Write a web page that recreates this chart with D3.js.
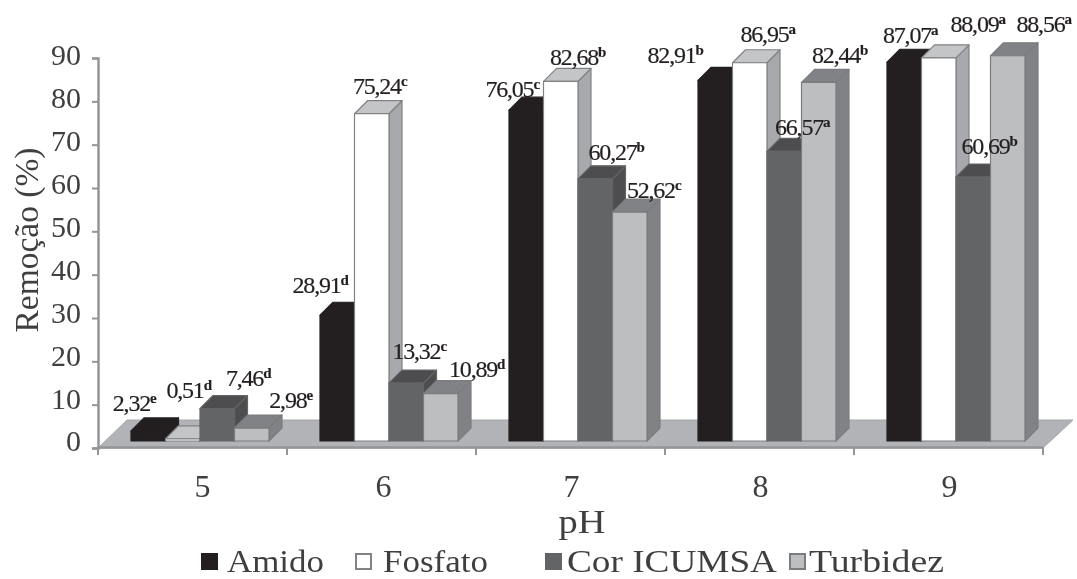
<!DOCTYPE html>
<html><head><meta charset="utf-8">
<script src="https://cdn.jsdelivr.net/npm/d3@7/dist/d3.min.js"></script>
<style>html,body{margin:0;background:#fff}svg{display:block}#root{filter:blur(0.45px)}</style></head>
<body><svg id="c" width="1077" height="579"><g id="root"></g></svg>
<script>
const categories = ["5","6","7","8","9"];
const seriesNames = ["Amido","Fosfato","Cor ICUMSA","Turbidez"];
const amido   = [2.32,28.91,76.05,82.91,87.07];
const fosfato = [0.51,75.24,82.68,86.95,88.09];
const cor     = [7.46,13.32,60.27,66.57,60.69];
const turbidez= [2.98,10.89,52.62,82.44,88.56];
const amidoLetters   = ["e","d","c","b","a"];
const fosfatoLetters = ["d","c","b","a","a"];
const corLetters     = ["d","c","b","a","b"];
const turbidezLetters= ["e","d","c","b","a"];
const yTicks = [0,10,20,30,40,50,60,70,80,90];
// label nudges from the bar's default label anchor [dx,dy]
const labelNudges = [
 [[-20,-2],[0,-23],[25,-5],[33,-2]],
 [[-23,-4],[2,-2],[7,-6],[30,1]],
 [[-20,5],[11,2],[15,-1],[18,4]],
 [[-46,1],[12,-3],[12,2],[15,-1]],
 [[0,-1],[33,-8],[10,-5],[30,-6]]
];
const xTickNudges = [10,2,1,1,1];
const legendStarts = [201,355,545,789];
const legendTextGaps = [26,28,22,20];
const legendWidths = [97,105,210,135];
const series = [amido,fosfato,cor,turbidez];
const letters = [amidoLetters,fosfatoLetters,corLetters,turbidezLetters];
const styles = [
 {front:"#231f20",top:"#231f20",side:"#231f20",stroke:"#231f20"},
 {front:"#ffffff",top:"#c4c5c7",side:"#a7a9ac",stroke:"#808285"},
 {front:"#636466",top:"#4d4d4f",side:"#4d4d4f",stroke:"#636466"},
 {front:"#bcbec0",top:"#808285",side:"#808285",stroke:"#7a7c7f"}
];
const FONT = "'Liberation Serif',serif";
const INK = "#3f3f41";
const svg = d3.select("#root");
const depth = 13;
const y0 = 441;
const y = d3.scaleLinear().domain([0,90]).range([y0,y0-391.5]);
const yAxisY = d3.scaleLinear().domain([0,90]).range([448,58]);
const yLabelY = d3.scaleLinear().domain([0,90]).range([441,55]);
const xBand = d3.scaleBand().domain(categories).range([98,1043]).padding(0);
const xInner = d3.scaleBand().domain(d3.range(4)).range([33,171]).padding(0);

// floor
const L=xBand.range()[0], R=xBand.range()[1];
svg.append("path").attr("d",d3.line()([[L,448],[L+29,420],[R+30,420],[R,448]])+"Z")
  .attr("fill","#b1b3b6").attr("stroke","#a4a6a9").attr("stroke-width",1);
svg.append("line").attr("x1",L).attr("x2",R).attr("y1",447.5).attr("y2",447.5).attr("stroke","#939598").attr("stroke-width",2.5);

// axes
const axisG = svg.append("g").attr("transform",`translate(${L},0)`)
  .call(d3.axisLeft(yAxisY).tickValues(yTicks).tickSize(6).tickPadding(11));
axisG.select(".domain").attr("stroke","#939598").attr("stroke-width",2.5);
axisG.selectAll(".tick line").attr("stroke","#939598").attr("stroke-width",2);
axisG.selectAll("text").attr("font-family",FONT).attr("font-size",30).attr("fill",INK)
  .attr("y",d=>yLabelY(d)-yAxisY(d)).attr("dy","0.33em");

const xAxis = d3.axisBottom(xBand).tickSize(0).tickPadding(26);
const xg = svg.append("g").attr("transform","translate(0,448)").call(xAxis);
xg.select(".domain").remove();
xg.selectAll("text").attr("font-family",FONT).attr("font-size",32).attr("fill",INK).attr("dy","0.71em")
  .attr("x",(d,i)=>xTickNudges[i]);
svg.append("g").selectAll("line").data(d3.range(6)).join("line")
  .attr("x1",i=>L+i*xBand.step()).attr("x2",i=>L+i*xBand.step())
  .attr("y1",447).attr("y2",455).attr("stroke","#939598").attr("stroke-width",2);

// bars
categories.forEach((c,gi)=>{
  const gx = xBand(c);
  series.forEach((vals,si)=>{
    const x = gx + xInner(si), w = xInner.bandwidth(), t = y(vals[gi]), st = styles[si];
    const g = svg.append("g").attr("stroke",st.stroke).attr("stroke-width",1.2).attr("stroke-linejoin","round");
    g.append("path").attr("fill",st.side).attr("d",d3.line()([[x+w,t],[x+w+depth,t-depth],[x+w+depth,y0-depth],[x+w,y0]])+"Z");
    g.append("path").attr("fill",st.top).attr("d",d3.line()([[x,t],[x+depth,t-depth],[x+w+depth,t-depth],[x+w,t]])+"Z");
    g.append("rect").attr("x",x).attr("y",t).attr("width",w).attr("height",y0-t).attr("fill",st.front);
  });
});
// labels on top
categories.forEach((c,gi)=>{
  const gx = xBand(c);
  series.forEach((vals,si)=>{
    const w = xInner.bandwidth(), x = gx + xInner(si) + w/2 + depth/2, t = y(vals[gi]);
    const [dx,dy] = labelNudges[gi][si];
    const txt = svg.append("text").attr("x",x+dx).attr("y",t-18+dy).attr("text-anchor","middle")
      .attr("font-family",FONT).attr("font-size",24).attr("letter-spacing",-1.2).attr("fill","#231f20").attr("stroke","#231f20").attr("stroke-width",0.2);
    txt.append("tspan").text(d3.format(".2f")(vals[gi]).replace(".",","));
    txt.append("tspan").text(letters[si][gi]).attr("font-size",15).attr("dy",-8).attr("letter-spacing",0).attr("font-weight","bold");
  });
});

// titles
svg.append("text").attr("transform","translate(38,240) rotate(-90)").attr("text-anchor","middle")
  .attr("font-family",FONT).attr("font-size",33).attr("fill",INK)
  .attr("textLength",185).attr("lengthAdjust","spacingAndGlyphs").text("Remoção (%)");
svg.append("text").attr("x",582).attr("y",533).attr("text-anchor","middle")
  .attr("font-family",FONT).attr("font-size",33).attr("fill",INK)
  .attr("textLength",47).attr("lengthAdjust","spacingAndGlyphs").text("pH");

// legend
const lg = svg.append("g").selectAll("g").data(seriesNames).join("g")
  .attr("transform",(d,i)=>`translate(${legendStarts[i]},0)`);
lg.append("rect").attr("x",1).attr("y",554).attr("width",15).attr("height",15)
  .attr("fill",(d,i)=>styles[i].front).attr("stroke",(d,i)=>i==1?"#808285":styles[i].stroke).attr("stroke-width",2);
lg.append("text").attr("x",(d,i)=>legendTextGaps[i]).attr("y",572).attr("font-family",FONT).attr("font-size",31).attr("fill",INK)
  .attr("textLength",(d,i)=>legendWidths[i]).attr("lengthAdjust","spacingAndGlyphs").text(d=>d);
</script></body></html>
